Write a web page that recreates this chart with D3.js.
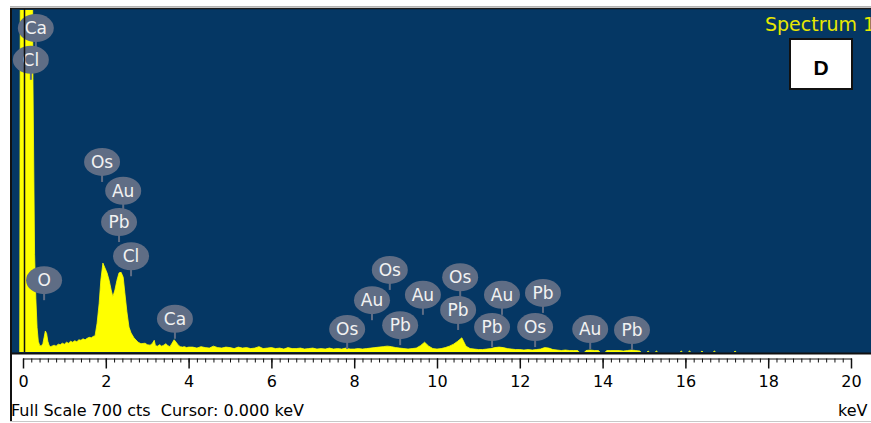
<!DOCTYPE html>
<html>
<head>
<meta charset="utf-8">
<script src="https://cdn.jsdelivr.net/npm/d3@7"></script>
<style>
  html, body { margin: 0; padding: 0; background: #ffffff; }
  svg { display: block; }
  text { font-family: "DejaVu Sans", sans-serif; }
</style>
</head>
<body>
<svg id="chart" width="871" height="423"></svg>
<script>
// EDS spectrum: energy channels (keV) and their counts
const energyKeV = [
  -0.08, -0.06, 0.22, 0.24, 0.28, 0.31, 0.34, 0.37, 0.40, 0.44, 0.48, 0.51, 0.54, 0.57, 0.60, 0.63, 0.66, 0.70,
  0.75, 0.80, 0.85, 0.90, 0.95, 1.00, 1.05, 1.10, 1.15, 1.20, 1.25, 1.30, 1.35, 1.40, 1.45, 1.50, 1.55, 1.60,
  1.65, 1.70, 1.74, 1.79, 1.84, 1.88, 1.93, 1.98, 2.03, 2.08, 2.13, 2.17, 2.22, 2.27, 2.32, 2.37, 2.42, 2.46,
  2.51, 2.56, 2.61, 2.68, 2.78, 2.85, 2.95, 3.00, 3.07, 3.12, 3.17, 3.20, 3.25, 3.30, 3.35, 3.40, 3.45, 3.50,
  3.55, 3.60, 3.65, 3.70, 3.75, 3.80, 3.85, 3.90, 3.95, 4.00,
  4.1, 4.2, 4.3, 4.4, 4.5, 4.6, 4.7, 4.8, 4.9, 5.0, 5.1, 5.2, 5.3, 5.4, 5.5, 5.6, 5.7, 5.8, 5.9, 6.0,
  6.1, 6.2, 6.3, 6.4, 6.5, 6.6, 6.7, 6.8, 6.9, 7.0, 7.1, 7.2, 7.3, 7.4, 7.5, 7.6, 7.7, 7.8, 7.9, 8.0,
  8.1, 8.2, 8.3, 8.4, 8.5, 8.6, 8.7, 8.8, 8.9, 9.0, 9.1, 9.2, 9.3, 9.4, 9.5, 9.6, 9.7, 9.8, 9.9, 10.0,
  10.1, 10.2, 10.3, 10.4, 10.5, 10.6, 10.7, 10.8, 10.9, 11.0, 11.1, 11.2, 11.3, 11.4, 11.5, 11.6, 11.7, 11.8, 11.9, 12.0,
  12.1, 12.2, 12.3, 12.4, 12.5, 12.6, 12.7, 12.8, 12.9, 13.0, 13.1, 13.2, 13.3, 13.4, 13.5, 13.6, 13.7, 13.8, 13.9, 14.0,
  14.1, 14.2, 14.3, 14.4, 14.5, 14.6, 14.7, 14.8, 14.9, 15.0, 15.1, 15.2, 15.3, 15.4, 15.5, 15.6, 15.7, 15.8, 15.9, 16.0,
  16.1, 16.2, 16.3, 16.4, 16.5, 16.6, 16.7, 16.8, 16.9, 17.0, 17.1, 17.2, 17.3
];
const counts = [
  0, 1000, 1000, 560, 200, 110, 50, 22, 14, 12, 17, 30, 43, 38, 22, 14, 11, 12,
  14, 12, 16, 15, 18, 16, 20, 18, 22, 20, 23, 21, 25, 24, 27, 25, 28, 30,
  29, 32, 33, 59, 100, 147, 182, 172, 162, 147, 127, 113, 127, 147, 162, 163, 153, 121,
  82, 51, 39, 29, 20, 17, 18, 15, 14, 17, 24, 13, 12, 15, 12, 14, 17, 13,
  11, 18, 25, 20, 14, 11, 10, 11, 9, 10,
  10, 8, 11, 9, 8, 12, 9, 8, 10, 9, 7, 10, 8, 9, 7, 8, 11, 7, 8, 9,
  7, 8, 6, 9, 7, 7, 8, 6, 7, 8, 6, 7, 6, 8, 6, 7, 6, 8, 6, 6,
  7, 6, 7, 8, 9, 10, 11, 12, 11, 9, 8, 7, 6, 7, 8, 13, 20, 12, 7, 6,
  7, 9, 12, 16, 22, 29, 12, 7, 6, 5, 5, 6, 7, 9, 10, 9, 7, 6, 5, 5,
  4, 5, 4, 5, 6, 9, 8, 5, 4, 3, 4, 3, 3, 3, 0, 3, 4, 3, 3, 0,
  3, 3, 3, 3, 2, 3, 4, 3, 2, 0, 2, 0, 2, 0, 0, 0, 0, 0, 2, 0,
  2, 0, 0, 2, 0, 0, 2, 0, 0, 0, 0, 2, 0
];

// Element line markers: symbol, line energy (keV), marker height (counts)
const lineLabels = ["Ca", "Cl", "O", "Os", "Au", "Pb", "Cl", "Ca", "Os", "Au", "Os", "Pb", "Au", "Os", "Pb", "Pb", "Au", "Pb", "Os", "Au", "Pb"];
const lineKeV = [0.31, 0.19, 0.51, 1.91, 2.42, 2.32, 2.61, 3.67, 7.83, 8.43, 8.86, 9.11, 9.66, 10.56, 10.51, 11.33, 11.57, 12.56, 12.37, 13.70, 14.71];
const labelLevel = [663, 598, 147, 389, 330, 266, 196, 68, 47, 106, 168, 55, 117, 153, 86, 51, 117, 121, 51, 47, 45];

const majorTicks = [0, 2, 4, 6, 8, 10, 12, 14, 16, 18, 20];
const minorTicks = d3.range(0, 101).map(i => i / 5);
const fullScale = 700;
const cursorKeV = 0.0;
const spectrumName = "Spectrum 1";
const panelTag = "D";

const svg = d3.select("#chart");
const W = 871, H = 423;
const plot = { left: 12, top: 9, right: 871, bottom: 353 };

const x = d3.scaleLinear().domain([0, 20]).range([23, 851]);
const y = d3.scaleLinear().domain([0, fullScale]).range([352, 10]);

svg.append("rect").attr("width", W).attr("height", H).attr("fill", "#ffffff");

// outer frame
svg.append("line").attr("x1", 10).attr("x2", W).attr("y1", 6.5).attr("y2", 6.5)
  .attr("stroke", "#b4b4b4").attr("stroke-width", 1);
svg.append("line").attr("x1", 10).attr("x2", W).attr("y1", 421.5).attr("y2", 421.5)
  .attr("stroke", "#c8c8c8").attr("stroke-width", 1);

// plot panel
svg.append("rect")
  .attr("x", plot.left).attr("y", plot.top)
  .attr("width", plot.right - plot.left).attr("height", plot.bottom - plot.top)
  .attr("fill", "#053764");
svg.append("line").attr("x1", 10).attr("x2", W).attr("y1", 8.5).attr("y2", 8.5)
  .attr("stroke", "#1b1b1b").attr("stroke-width", 1.5);

svg.append("clipPath").attr("id", "plotClip")
  .append("rect").attr("x", plot.left).attr("y", 10)
  .attr("width", plot.right - plot.left).attr("height", 342);

const pts = energyKeV.map((e, i) => [e, counts[i]]);
// base sits just under the clip edge so empty channels leave gaps
const area = d3.area()
  .x(d => x(d[0]))
  .y0(y(0) + 3)
  .y1(d => y(d[1]) + (d[1] === 0 ? 3 : 0))
  .curve(d3.curveLinear);

svg.append("path")
  .datum(pts)
  .attr("clip-path", "url(#plotClip)")
  .attr("d", area)
  .attr("fill", "#ffff00")
  .attr("stroke", "#ffff00")
  .attr("stroke-width", 0.8)
  .attr("stroke-linejoin", "round");

// element markers
const bubbles = svg.append("g");
lineLabels.forEach((lab, i) => {
  const cx = x(lineKeV[i]);
  const cy = y(labelLevel[i]);
  const g = bubbles.append("g");
  g.append("rect")
    .attr("x", cx - 1).attr("y", cy + 10)
    .attr("width", 2).attr("height", 10)
    .attr("fill", "#5f6d85");
  g.append("ellipse")
    .attr("cx", cx).attr("cy", cy)
    .attr("rx", 18).attr("ry", 14)
    .attr("fill", "#5f6d85");
  g.append("text")
    .attr("x", cx).attr("y", cy + 6)
    .attr("text-anchor", "middle")
    .attr("font-size", 17)
    .attr("fill", "#f2f2f2")
    .text(lab);
});

// cursor
svg.append("line")
  .attr("x1", x(cursorKeV) + 1.5).attr("x2", x(cursorKeV) + 1.5)
  .attr("y1", 9).attr("y2", 352)
  .attr("stroke", "#111111").attr("stroke-width", 1.5);

// panel bottom edge
svg.append("line").attr("x1", plot.left).attr("x2", W).attr("y1", 353.5).attr("y2", 353.5)
  .attr("stroke", "#111111").attr("stroke-width", 2);

// left frame edge
svg.append("line").attr("x1", 11).attr("x2", 11).attr("y1", 8).attr("y2", 421)
  .attr("stroke", "#111111").attr("stroke-width", 2);

// spectrum title (runs past the right edge of the panel)
svg.append("text")
  .attr("x", 765).attr("y", 31)
  .attr("font-size", 19)
  .attr("fill", "#e8e800")
  .text(spectrumName);

// panel tag
svg.append("rect")
  .attr("x", 790).attr("y", 39)
  .attr("width", 62).attr("height", 50)
  .attr("fill", "#ffffff").attr("stroke", "#111111").attr("stroke-width", 2);
svg.append("text")
  .attr("x", 821).attr("y", 74.5)
  .attr("text-anchor", "middle")
  .attr("font-weight", "bold")
  .attr("font-size", 21)
  .attr("fill", "#000000")
  .style("font-family", "'Liberation Sans', Arial, sans-serif")
  .text(panelTag);

// energy axis
const axisY = 358.5;
const minorAxis = d3.axisBottom(x).tickValues(minorTicks).tickSize(4).tickSizeOuter(0).tickFormat("");
const majorAxis = d3.axisBottom(x).tickValues(majorTicks).tickSize(10).tickSizeOuter(0)
  .tickPadding(7).tickFormat(d3.format("d"));

const gMinor = svg.append("g").attr("transform", `translate(0,${axisY})`).call(minorAxis);
gMinor.select(".domain").remove();
gMinor.selectAll(".tick line").attr("stroke", "#111111").attr("stroke-width", 1);

const gMajor = svg.append("g").attr("transform", `translate(0,${axisY})`).call(majorAxis);
gMajor.select(".domain").attr("stroke", "#111111").attr("stroke-width", 1);
gMajor.selectAll(".tick line").attr("stroke", "#111111").attr("stroke-width", 1.5);
gMajor.selectAll(".tick text")
  .attr("font-size", 16)
  .attr("font-family", "'DejaVu Sans', sans-serif")
  .attr("fill", "#000000");

// status line
svg.append("text")
  .attr("x", 11).attr("y", 416)
  .attr("font-size", 16)
  .attr("fill", "#000000")
  .style("white-space", "pre")
  .text(`Full Scale ${fullScale} cts  Cursor: ${cursorKeV.toFixed(3)} keV`);
svg.append("text")
  .attr("x", 838).attr("y", 416)
  .attr("font-size", 16)
  .attr("fill", "#000000")
  .text("keV");
</script>
</body>
</html>
